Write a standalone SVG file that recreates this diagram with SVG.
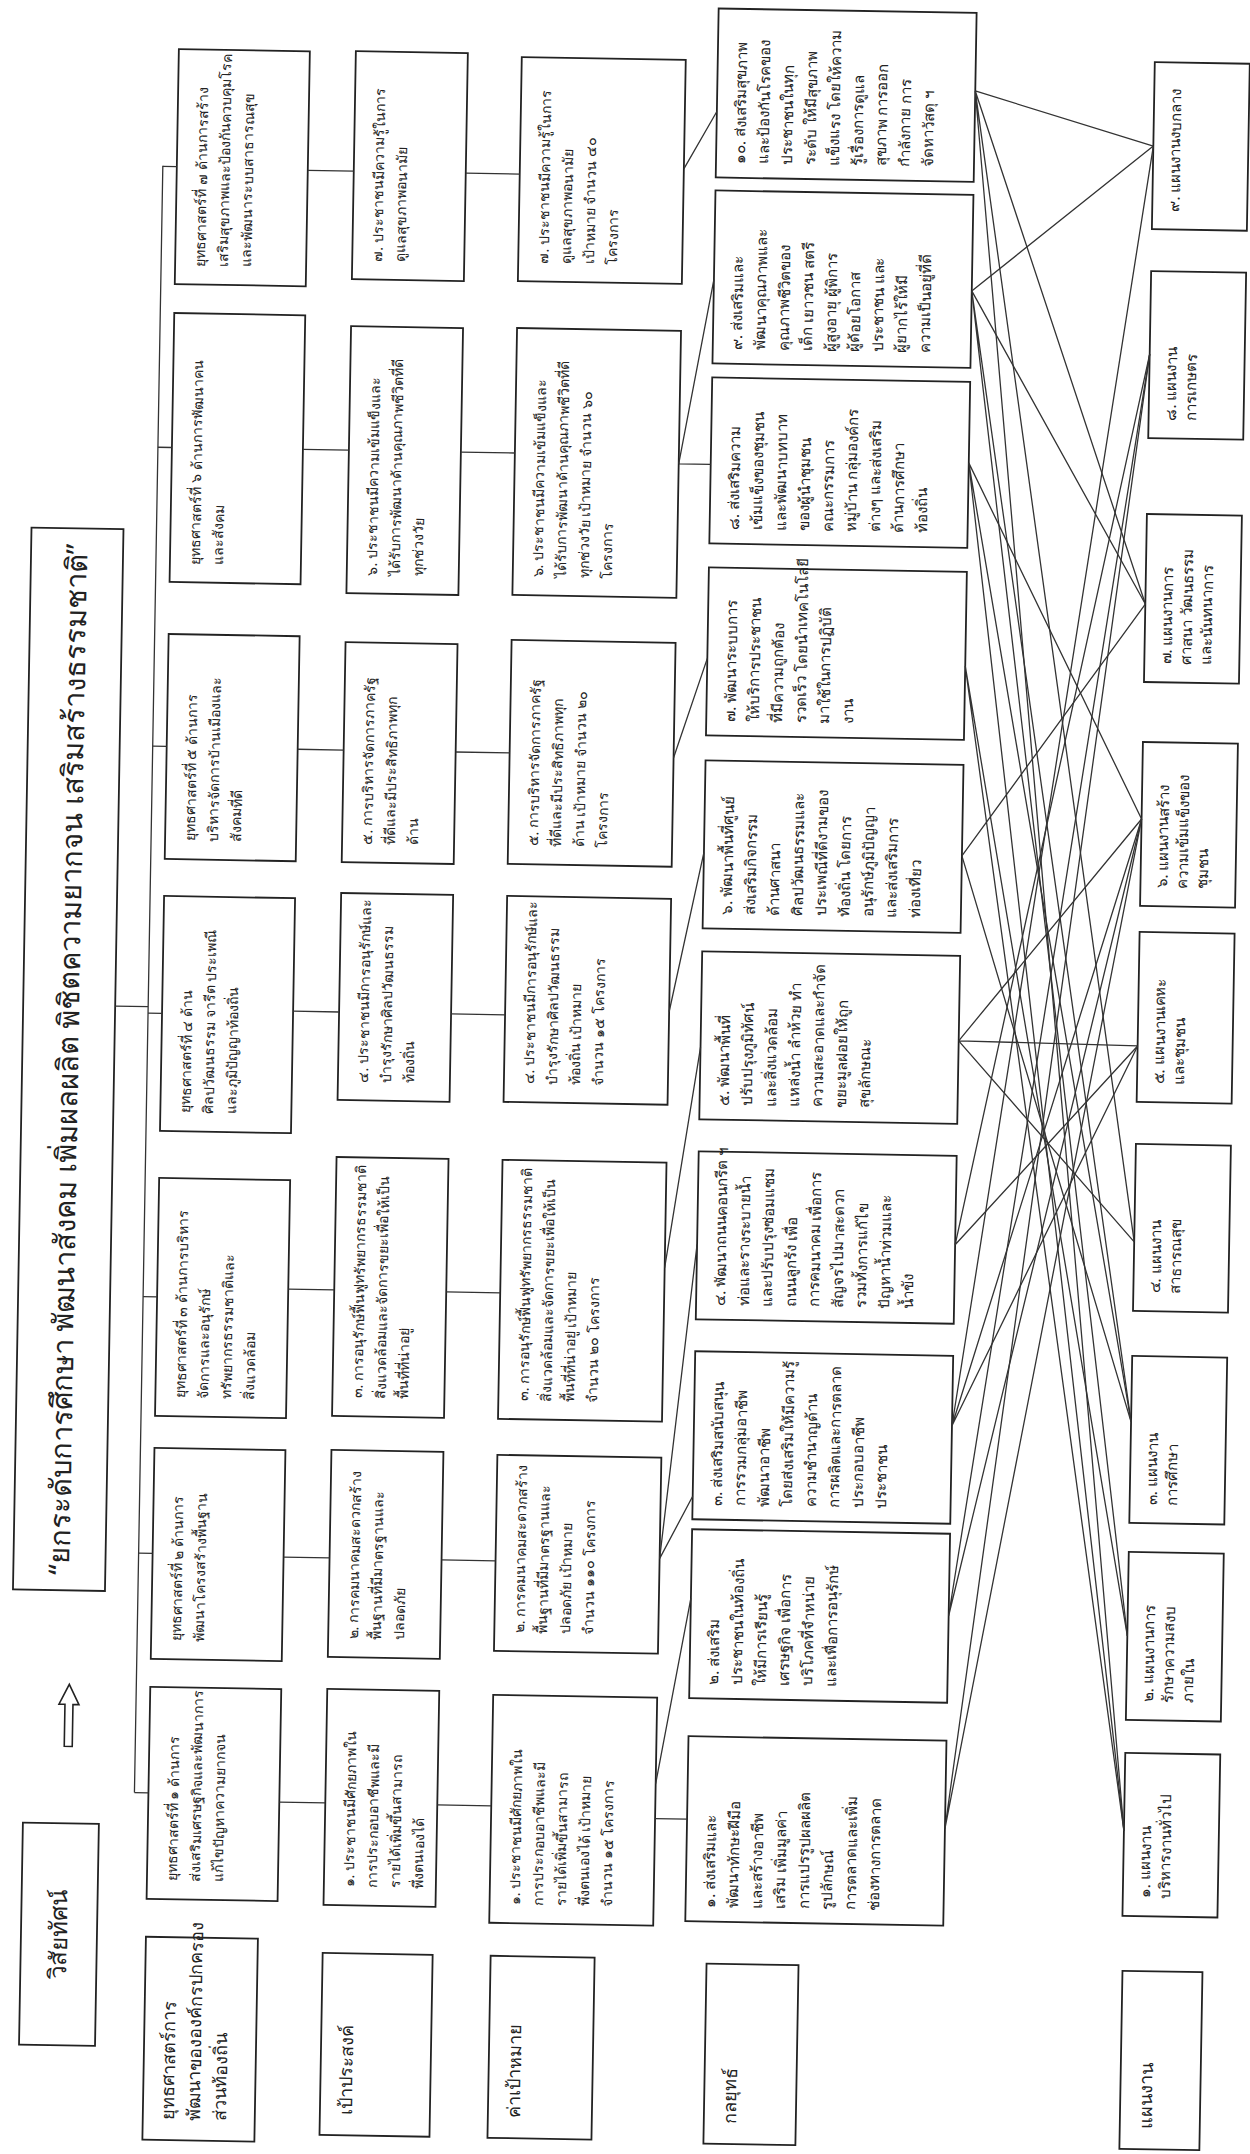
<svg xmlns="http://www.w3.org/2000/svg" width="1250" height="2154" viewBox="0 0 1250 2154">
<style>
.b{fill:#fff;stroke:#222;stroke-width:1.8}
.t{font-family:"Noto Sans","DejaVu Sans",sans-serif;font-size:14px;fill:#222}
.k{font-size:15px}
.p{font-size:15px}
.lb{font-size:18px}
.ti{font-size:29px}
.vi{font-size:24px}
.c{stroke:#333;stroke-width:1.3;fill:none}
</style>
<rect x="0" y="0" width="1250" height="2154" fill="#fff"/>
<g transform="rotate(1 625 1077)">
<g transform="translate(0 2154) rotate(-90)">

<g id="vision-label"><rect class="b" x="99" y="36" width="222" height="76"/><text class="t vi" x="210" y="82" text-anchor="middle">วิสัยทัศน์</text></g>
<g id="vision-arrow"><path d="M398,76 H440 V70 L460,80 L440,90 V84 H398 Z" fill="#fff" stroke="#222" stroke-width="1.6"/></g>
<g id="vision"><rect class="b" x="554" y="22" width="1062" height="92"/><text class="t ti" x="1085" y="78" text-anchor="middle">“ยกระดับการศึกษา พัฒนาสังคม เพิ่มผลผลิต พิชิตความยากจน เสริมสร้างธรรมชาติ”</text></g>

<g id="label-strategy"><rect class="b" x="6" y="161" width="203" height="112"/><text class="t lb" x="26" y="192"><tspan x="26">ยุทธศาสตร์การ</tspan><tspan x="26" dy="26">พัฒนาขององค์กรปกครอง</tspan><tspan x="26" dy="26">ส่วนท้องถิ่น</tspan></text></g>
<g id="label-goal"><rect class="b" x="14" y="338" width="182" height="110"/><text class="t lb" x="34" y="370">เป้าประสงค์</text></g>
<g id="label-target"><rect class="b" x="14" y="506" width="182" height="104"/><text class="t lb" x="34" y="538">ค่าเป้าหมาย</text></g>
<g id="label-tactic"><rect class="b" x="12" y="722" width="180" height="92"/><text class="t lb" x="32" y="754">กลยุทธ์</text></g>
<g id="label-plan"><rect class="b" x="14" y="1138" width="178" height="80"/><text class="t lb" x="34" y="1170">แผนงาน</text></g>

<g id="s1"><rect class="b" x="247" y="161" width="212" height="131"/><text class="t" x="265" y="191"><tspan x="265">ยุทธศาสตร์ที่ ๑ ด้านการ</tspan><tspan x="265" dy="23">ส่งเสริมเศรษฐกิจและพัฒนาการ</tspan><tspan x="265" dy="23">แก้ไขปัญหาความยากจน</tspan></text></g>
<g id="s2"><rect class="b" x="487" y="161" width="211" height="131"/><text class="t" x="505" y="191"><tspan x="505">ยุทธศาสตร์ที่ ๒ ด้านการ</tspan><tspan x="505" dy="23">พัฒนาโครงสร้างพื้นฐาน</tspan></text></g>
<g id="s3"><rect class="b" x="730" y="161" width="238" height="131"/><text class="t" x="748" y="191"><tspan x="748">ยุทธศาสตร์ที่ ๓ ด้านการบริหาร</tspan><tspan x="748" dy="23">จัดการและอนุรักษ์</tspan><tspan x="748" dy="23">ทรัพยากรธรรมชาติและ</tspan><tspan x="748" dy="23">สิ่งแวดล้อม</tspan></text></g>
<g id="s4"><rect class="b" x="1015" y="161" width="235" height="131"/><text class="t" x="1033" y="191"><tspan x="1033">ยุทธศาสตร์ที่ ๔ ด้าน</tspan><tspan x="1033" dy="23">ศิลปวัฒนธรรม จารีต ประเพณี</tspan><tspan x="1033" dy="23">และภูมิปัญญาท้องถิ่น</tspan></text></g>
<g id="s5"><rect class="b" x="1287" y="161" width="225" height="131"/><text class="t" x="1305" y="191"><tspan x="1305">ยุทธศาสตร์ที่ ๕ ด้านการ</tspan><tspan x="1305" dy="23">บริหารจัดการบ้านเมืองและ</tspan><tspan x="1305" dy="23">สังคมที่ดี</tspan></text></g>
<g id="s6"><rect class="b" x="1564" y="161" width="269" height="131"/><text class="t" x="1582" y="191"><tspan x="1582">ยุทธศาสตร์ที่ ๖ ด้านการพัฒนาคน</tspan><tspan x="1582" dy="23">และสังคม</tspan></text></g>
<g id="s7"><rect class="b" x="1862" y="161" width="235" height="131"/><text class="t" x="1880" y="191"><tspan x="1880">ยุทธศาสตร์ที่ ๗ ด้านการสร้าง</tspan><tspan x="1880" dy="23">เสริมสุขภาพและป้องกันควบคุมโรค</tspan><tspan x="1880" dy="23">และพัฒนาระบบสาธารณสุข</tspan></text></g>

<g id="o1"><rect class="b" x="244" y="338" width="216" height="112"/><text class="t" x="262" y="368"><tspan x="262">๑. ประชาชนมีศักยภาพใน</tspan><tspan x="262" dy="23">การประกอบอาชีพและมี</tspan><tspan x="262" dy="23">รายได้เพิ่มขึ้นสามารถ</tspan><tspan x="262" dy="23">พึ่งตนเองได้</tspan></text></g>
<g id="o2"><rect class="b" x="492" y="338" width="207" height="112"/><text class="t" x="510" y="368"><tspan x="510">๒. การคมนาคมสะดวกสร้าง</tspan><tspan x="510" dy="23">พื้นฐานที่มีมาตรฐานและ</tspan><tspan x="510" dy="23">ปลอดภัย</tspan></text></g>
<g id="o3"><rect class="b" x="733" y="338" width="259" height="112"/><text class="t" x="751" y="368"><tspan x="751">๓. การอนุรักษ์ฟื้นฟูทรัพยากรธรรมชาติ</tspan><tspan x="751" dy="23">สิ่งแวดล้อมและจัดการขยะเพื่อให้เป็น</tspan><tspan x="751" dy="23">พื้นที่ที่น่าอยู่</tspan></text></g>
<g id="o4"><rect class="b" x="1049" y="338" width="207" height="112"/><text class="t" x="1067" y="368"><tspan x="1067">๔. ประชาชนมีการอนุรักษ์และ</tspan><tspan x="1067" dy="23">บำรุงรักษาศิลปวัฒนธรรม</tspan><tspan x="1067" dy="23">ท้องถิ่น</tspan></text></g>
<g id="o5"><rect class="b" x="1287" y="338" width="220" height="112"/><text class="t" x="1305" y="368"><tspan x="1305">๕. การบริหารจัดการภาครัฐ</tspan><tspan x="1305" dy="23">ที่ดีและมีประสิทธิภาพทุก</tspan><tspan x="1305" dy="23">ด้าน</tspan></text></g>
<g id="o6"><rect class="b" x="1556" y="338" width="267" height="112"/><text class="t" x="1574" y="368"><tspan x="1574">๖. ประชาชนมีความเข้มแข็งและ</tspan><tspan x="1574" dy="23">ได้รับการพัฒนาด้านคุณภาพชีวิตที่ดี</tspan><tspan x="1574" dy="23">ทุกช่วงวัย</tspan></text></g>
<g id="o7"><rect class="b" x="1870" y="338" width="228" height="112"/><text class="t" x="1888" y="368"><tspan x="1888">๗. ประชาชนมีความรู้ในการ</tspan><tspan x="1888" dy="23">ดูแลสุขภาพอนามัย</tspan></text></g>

<g id="t1"><rect class="b" x="229" y="504" width="228" height="164"/><text class="t" x="247" y="534"><tspan x="247">๑. ประชาชนมีศักยภาพใน</tspan><tspan x="247" dy="23">การประกอบอาชีพและมี</tspan><tspan x="247" dy="23">รายได้เพิ่มขึ้นสามารถ</tspan><tspan x="247" dy="23">พึ่งตนเองได้ เป้าหมาย</tspan><tspan x="247" dy="23">จำนวน ๑๕ โครงการ</tspan></text></g>
<g id="t2"><rect class="b" x="501" y="504" width="196" height="164"/><text class="t" x="519" y="534"><tspan x="519">๒. การคมนาคมสะดวกสร้าง</tspan><tspan x="519" dy="23">พื้นฐานที่มีมาตรฐานและ</tspan><tspan x="519" dy="23">ปลอดภัย เป้าหมาย</tspan><tspan x="519" dy="23">จำนวน ๑๑๐ โครงการ</tspan></text></g>
<g id="t3"><rect class="b" x="733" y="504" width="259" height="164"/><text class="t" x="751" y="534"><tspan x="751">๓. การอนุรักษ์ฟื้นฟูทรัพยากรธรรมชาติ</tspan><tspan x="751" dy="23">สิ่งแวดล้อมและจัดการขยะเพื่อให้เป็น</tspan><tspan x="751" dy="23">พื้นที่ที่น่าอยู่ เป้าหมาย</tspan><tspan x="751" dy="23">จำนวน ๒๐ โครงการ</tspan></text></g>
<g id="t4"><rect class="b" x="1050" y="504" width="206" height="164"/><text class="t" x="1068" y="534"><tspan x="1068">๔. ประชาชนมีการอนุรักษ์และ</tspan><tspan x="1068" dy="23">บำรุงรักษาศิลปวัฒนธรรม</tspan><tspan x="1068" dy="23">ท้องถิ่น เป้าหมาย</tspan><tspan x="1068" dy="23">จำนวน ๑๕ โครงการ</tspan></text></g>
<g id="t5"><rect class="b" x="1288" y="504" width="224" height="164"/><text class="t" x="1306" y="534"><tspan x="1306">๕. การบริหารจัดการภาครัฐ</tspan><tspan x="1306" dy="23">ที่ดีและมีประสิทธิภาพทุก</tspan><tspan x="1306" dy="23">ด้าน เป้าหมาย จำนวน ๒๐</tspan><tspan x="1306" dy="23">โครงการ</tspan></text></g>
<g id="t6"><rect class="b" x="1557" y="504" width="267" height="164"/><text class="t" x="1575" y="534"><tspan x="1575">๖. ประชาชนมีความเข้มแข็งและ</tspan><tspan x="1575" dy="23">ได้รับการพัฒนาด้านคุณภาพชีวิตที่ดี</tspan><tspan x="1575" dy="23">ทุกช่วงวัย เป้าหมาย จำนวน ๖๐</tspan><tspan x="1575" dy="23">โครงการ</tspan></text></g>
<g id="t7"><rect class="b" x="1871" y="504" width="224" height="164"/><text class="t" x="1889" y="534"><tspan x="1889">๗. ประชาชนมีความรู้ในการ</tspan><tspan x="1889" dy="23">ดูแลสุขภาพอนามัย</tspan><tspan x="1889" dy="23">เป้าหมาย จำนวน ๔๐</tspan><tspan x="1889" dy="23">โครงการ</tspan></text></g>

<g id="k1"><rect class="b" x="234" y="700" width="185" height="258"/><text class="t k" x="248" y="729"><tspan x="248">๑. ส่งเสริมและ</tspan><tspan x="248" dy="23.5">พัฒนาทักษะฝีมือ</tspan><tspan x="248" dy="23.5">และสร้างอาชีพ</tspan><tspan x="248" dy="23.5">เสริม เพิ่มมูลค่า</tspan><tspan x="248" dy="23.5">การแปรรูปผลผลิต</tspan><tspan x="248" dy="23.5">รูปลักษณ์</tspan><tspan x="248" dy="23.5">การตลาดและเพิ่ม</tspan><tspan x="248" dy="23.5">ช่องทางการตลาด</tspan></text></g>
<g id="k2"><rect class="b" x="457" y="700" width="169" height="258"/><text class="t k" x="471" y="729"><tspan x="471">๒. ส่งเสริม</tspan><tspan x="471" dy="23.5">ประชาชนในท้องถิ่น</tspan><tspan x="471" dy="23.5">ให้มีการเรียนรู้</tspan><tspan x="471" dy="23.5">เศรษฐกิจ เพื่อการ</tspan><tspan x="471" dy="23.5">บริโภคที่จำหน่าย</tspan><tspan x="471" dy="23.5">และเพื่อการอนุรักษ์</tspan></text></g>
<g id="k3"><rect class="b" x="636" y="700" width="168" height="258"/><text class="t k" x="650" y="729"><tspan x="650">๓. ส่งเสริมสนับสนุน</tspan><tspan x="650" dy="23.5">การรวมกลุ่มอาชีพ</tspan><tspan x="650" dy="23.5">พัฒนาอาชีพ</tspan><tspan x="650" dy="23.5">โดยส่งเสริมให้มีความรู้</tspan><tspan x="650" dy="23.5">ความชำนาญด้าน</tspan><tspan x="650" dy="23.5">การผลิตและการตลาด</tspan><tspan x="650" dy="23.5">ประกอบอาชีพ</tspan><tspan x="650" dy="23.5">ประชาชน</tspan></text></g>
<g id="k4"><rect class="b" x="836" y="700" width="168" height="258"/><text class="t k" x="850" y="729"><tspan x="850">๔. พัฒนาถนนคอนกรีต ฯ</tspan><tspan x="850" dy="23.5">ท่อและรางระบายน้ำ</tspan><tspan x="850" dy="23.5">และปรับปรุงซ่อมแซม</tspan><tspan x="850" dy="23.5">ถนนลูกรัง เพื่อ</tspan><tspan x="850" dy="23.5">การคมนาคม เพื่อการ</tspan><tspan x="850" dy="23.5">สัญจรไปมาสะดวก</tspan><tspan x="850" dy="23.5">รวมทั้งการแก้ไข</tspan><tspan x="850" dy="23.5">ปัญหาน้ำท่วมและ</tspan><tspan x="850" dy="23.5">น้ำขัง</tspan></text></g>
<g id="k5"><rect class="b" x="1036" y="700" width="168" height="258"/><text class="t k" x="1050" y="729"><tspan x="1050">๕. พัฒนาพื้นที่</tspan><tspan x="1050" dy="23.5">ปรับปรุงภูมิทัศน์</tspan><tspan x="1050" dy="23.5">และสิ่งแวดล้อม</tspan><tspan x="1050" dy="23.5">แหล่งน้ำ ลำห้วย ทำ</tspan><tspan x="1050" dy="23.5">ความสะอาดและกำจัด</tspan><tspan x="1050" dy="23.5">ขยะมูลฝอยให้ถูก</tspan><tspan x="1050" dy="23.5">สุขลักษณะ</tspan></text></g>
<g id="k6"><rect class="b" x="1227" y="700" width="168" height="258"/><text class="t k" x="1241" y="729"><tspan x="1241">๖. พัฒนาพื้นที่ศูนย์</tspan><tspan x="1241" dy="23.5">ส่งเสริมกิจกรรม</tspan><tspan x="1241" dy="23.5">ด้านศาสนา</tspan><tspan x="1241" dy="23.5">ศิลปวัฒนธรรมและ</tspan><tspan x="1241" dy="23.5">ประเพณีที่ดีงามของ</tspan><tspan x="1241" dy="23.5">ท้องถิ่น โดยการ</tspan><tspan x="1241" dy="23.5">อนุรักษ์ภูมิปัญญา</tspan><tspan x="1241" dy="23.5">และส่งเสริมการ</tspan><tspan x="1241" dy="23.5">ท่องเที่ยว</tspan></text></g>
<g id="k7"><rect class="b" x="1420" y="700" width="168" height="258"/><text class="t k" x="1434" y="729"><tspan x="1434">๗. พัฒนาระบบการ</tspan><tspan x="1434" dy="23.5">ให้บริการประชาชน</tspan><tspan x="1434" dy="23.5">ที่มีความถูกต้อง</tspan><tspan x="1434" dy="23.5">รวดเร็ว โดยนำเทคโนโลยี</tspan><tspan x="1434" dy="23.5">มาใช้ในการปฏิบัติ</tspan><tspan x="1434" dy="23.5">งาน</tspan></text></g>
<g id="k8"><rect class="b" x="1612" y="700" width="166" height="258"/><text class="t k" x="1626" y="729"><tspan x="1626">๘. ส่งเสริมความ</tspan><tspan x="1626" dy="23.5">เข้มแข็งของชุมชน</tspan><tspan x="1626" dy="23.5">และพัฒนาบทบาท</tspan><tspan x="1626" dy="23.5">ของผู้นำชุมชน</tspan><tspan x="1626" dy="23.5">คณะกรรมการ</tspan><tspan x="1626" dy="23.5">หมู่บ้าน กลุ่มองค์กร</tspan><tspan x="1626" dy="23.5">ต่างๆ และส่งเสริม</tspan><tspan x="1626" dy="23.5">ด้านการศึกษา</tspan><tspan x="1626" dy="23.5">ท้องถิ่น</tspan></text></g>
<g id="k9"><rect class="b" x="1792" y="700" width="173" height="258"/><text class="t k" x="1806" y="729"><tspan x="1806">๙. ส่งเสริมและ</tspan><tspan x="1806" dy="23.5">พัฒนาคุณภาพและ</tspan><tspan x="1806" dy="23.5">คุณภาพชีวิตของ</tspan><tspan x="1806" dy="23.5">เด็ก เยาวชน สตรี</tspan><tspan x="1806" dy="23.5">ผู้สูงอายุ ผู้พิการ</tspan><tspan x="1806" dy="23.5">ผู้ด้อยโอกาส</tspan><tspan x="1806" dy="23.5">ประชาชน และ</tspan><tspan x="1806" dy="23.5">ผู้ยากไร้ให้มี</tspan><tspan x="1806" dy="23.5">ความเป็นอยู่ที่ดี</tspan></text></g>
<g id="k10"><rect class="b" x="1978" y="700" width="169" height="258"/><text class="t k" x="1992" y="729"><tspan x="1992">๑๐. ส่งเสริมสุขภาพ</tspan><tspan x="1992" dy="23.5">และป้องกันโรคของ</tspan><tspan x="1992" dy="23.5">ประชาชนในทุก</tspan><tspan x="1992" dy="23.5">ระดับ ให้มีสุขภาพ</tspan><tspan x="1992" dy="23.5">แข็งแรง โดยให้ความ</tspan><tspan x="1992" dy="23.5">รู้เรื่องการดูแล</tspan><tspan x="1992" dy="23.5">สุขภาพ การออก</tspan><tspan x="1992" dy="23.5">กำลังกาย การ</tspan><tspan x="1992" dy="23.5">จัดหาวัสดุ ฯ</tspan></text></g>

<g id="p1"><rect class="b" x="247" y="1137" width="163" height="95"/><text class="t p" x="265" y="1164"><tspan x="265">๑. แผนงาน</tspan><tspan x="265" dy="20">บริหารงานทั่วไป</tspan></text></g>
<g id="p2"><rect class="b" x="443" y="1137" width="168" height="95"/><text class="t p" x="461" y="1164"><tspan x="461">๒. แผนงานการ</tspan><tspan x="461" dy="20">รักษาความสงบ</tspan><tspan x="461" dy="20">ภายใน</tspan></text></g>
<g id="p3"><rect class="b" x="640" y="1137" width="167" height="95"/><text class="t p" x="658" y="1164"><tspan x="658">๓. แผนงาน</tspan><tspan x="658" dy="20">การศึกษา</tspan></text></g>
<g id="p4"><rect class="b" x="852" y="1137" width="167" height="95"/><text class="t p" x="870" y="1164"><tspan x="870">๔. แผนงาน</tspan><tspan x="870" dy="20">สาธารณสุข</tspan></text></g>
<g id="p5"><rect class="b" x="1061" y="1137" width="170" height="95"/><text class="t p" x="1079" y="1164"><tspan x="1079">๕. แผนงานเคหะ</tspan><tspan x="1079" dy="20">และชุมชน</tspan></text></g>
<g id="p6"><rect class="b" x="1257" y="1137" width="164" height="95"/><text class="t p" x="1275" y="1164"><tspan x="1275">๖. แผนงานสร้าง</tspan><tspan x="1275" dy="20">ความเข้มแข็งของ</tspan><tspan x="1275" dy="20">ชุมชน</tspan></text></g>
<g id="p7"><rect class="b" x="1481" y="1137" width="168" height="95"/><text class="t p" x="1499" y="1164"><tspan x="1499">๗. แผนงานการ</tspan><tspan x="1499" dy="20">ศาสนา วัฒนธรรม</tspan><tspan x="1499" dy="20">และนันทนาการ</tspan></text></g>
<g id="p8"><rect class="b" x="1725" y="1137" width="167" height="95"/><text class="t p" x="1743" y="1164"><tspan x="1743">๘. แผนงาน</tspan><tspan x="1743" dy="20">การเกษตร</tspan></text></g>
<g id="p9"><rect class="b" x="1934" y="1137" width="167" height="95"/><text class="t p" x="1952" y="1164">๙. แผนงานงบกลาง</text></g>

<g id="connectors" class="c">
<path d="M1139,114 V147 M353,147 H1980"/>
<path d="M1979.5,147 V161 M1698.5,147 V161 M1399.5,147 V161 M1132.5,147 V161 M849,147 V161 M592.5,147 V161 M353,147 V161"/>
<path d="M1978,292 V338 M1699,292 V338 M1399,292 V338 M1137,292 V338 M859,292 V338 M591,292 V338 M346,292 V338"/>
<path d="M1978,450 V504 M1699,450 V504 M1399,450 V504 M1137,450 V504 M859,450 V504 M591,450 V504 M346,450 V504"/>
<path d="M1986,668 L2044,700 M1691,668 V700 M1691,668 L1876,700 M1397,668 L1497,700 M1143,668 L1303,700 M887,668 L1108,700 M596,668 L911,700 M596,668 L659,700 M371,668 L557,700 M336,668 V700"/>
<path d="M2069,958 L2017,1137 M2069,958 L1559,1137 M2069,958 L921,1137 M2069,958 L332,1137"/>
<path d="M1869,958 L2017,1137 M1869,958 L1559,1137 M1869,958 L741,1137 M1869,958 L527,1137"/>
<path d="M1697,958 L1344,1137 M1697,958 L741,1137 M1697,958 L332,1137"/>
<path d="M1494,958 L332,1137 M1494,958 L527,1137"/>
<path d="M1304,958 L1559,1137 M1304,958 L741,1137"/>
<path d="M1119,958 L1344,1137 M1119,958 L921,1137 M1119,958 L1117,1137"/>
<path d="M915,958 L1117,1137 M915,958 L1809,1137"/>
<path d="M734,958 L1117,1137 M734,958 L2017,1137 M734,958 L1344,1137"/>
<path d="M544,958 L1809,1137 M544,958 L1344,1137"/>
<path d="M331,958 L1809,1137 M331,958 L1344,1137"/>
</g>
</g>
</g>
</svg>
